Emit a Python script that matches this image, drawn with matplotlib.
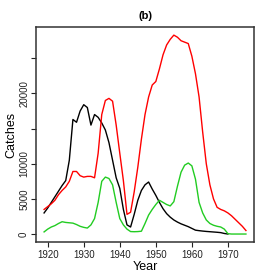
import matplotlib
matplotlib.use("Agg")
import matplotlib.pyplot as plt
import numpy as np

plt.rcParams["font.family"] = ["Liberation Sans", "DejaVu Sans"]

# catches per year, three series
years_black = list(range(1919, 1971))
black = [3000, 3700, 4500, 5300, 6100, 6900, 7600, 10500, 16300, 15900,
         17500, 18400, 18000, 15500, 17000, 16600, 15800, 14800, 13000, 10500,
         8000, 6500, 3500, 1300, 1000, 2800, 4800, 6200, 7000, 7400,
         6400, 5500, 4500, 3600, 2900, 2400, 2000, 1700, 1450, 1250,
         1050, 800, 550, 480, 420, 370, 330, 290, 250, 200,
         80, 0]

years_red = list(range(1919, 1976))
red = [3500, 3900, 4300, 4800, 5600, 6200, 6700, 7500, 8900, 8900,
       8300, 8100, 8200, 8200, 8000, 11500, 17000, 19000, 19300, 18900,
       15500, 11500, 7600, 2800, 3100, 6000, 9500, 13500, 17000, 19500,
       21200, 21700, 23500, 25500, 26900, 27700, 28300, 28000, 27500, 27300,
       27100, 25300, 22800, 19500, 14500, 10000, 7000, 5000, 3800, 3500,
       3300, 3000, 2600, 2100, 1600, 1100, 500]

years_green = list(range(1919, 1976))
green = [300, 700, 1000, 1200, 1500, 1750, 1650, 1600, 1550, 1350,
         1100, 950, 850, 1300, 2200, 4500, 7500, 8100, 7900, 7000,
         4500, 2200, 1300, 700, 350, 330, 350, 400, 1500, 2700,
         3500, 4200, 4800, 4500, 4200, 4000, 4600, 6800, 8800, 9800,
         10100, 9700, 7800, 4500, 3000, 2000, 1500, 1250, 1100, 1000,
         700, 50, 0, 0, 0, 0, 0]

ytick_vals = [0, 5000, 10000, 15000, 20000, 25000]
ytick_labels = ["0", "5000", "10000", "", "20000", ""]
xtick_vals = [1920, 1930, 1940, 1950, 1960, 1970]

fig = plt.figure(figsize=(2.77, 2.77), dpi=100)
ax = fig.add_axes([0.13, 0.1264, 0.787, 0.776])

ax.plot(years_black, black, color="black", lw=1.0)
ax.plot(years_red, red, color="#FF0000", lw=1.0)
ax.plot(years_green, green, color="#22CC22", lw=1.0)

ax.set_xlim(1916.76, 1977.24)
ax.set_ylim(-1132, 29450)

ax.set_xticks(xtick_vals)
ax.set_yticks(ytick_vals)
ax.set_yticklabels(ytick_labels, rotation=90, va="center")
ax.tick_params(labelsize=7, length=3.5, width=0.8, pad=2, colors="#222222")
ax.tick_params(axis="y", pad=1.5)
for s in ax.spines.values():
    s.set_linewidth(1.1)
    s.set_color("#333333")

ax.set_xlabel("Year", fontsize=9, labelpad=1)
ax.set_ylabel("Catches", fontsize=9, labelpad=1)
ax.set_title("(b)", fontsize=8, fontweight="bold", pad=6)

fig.savefig("out.png", dpi=100)
